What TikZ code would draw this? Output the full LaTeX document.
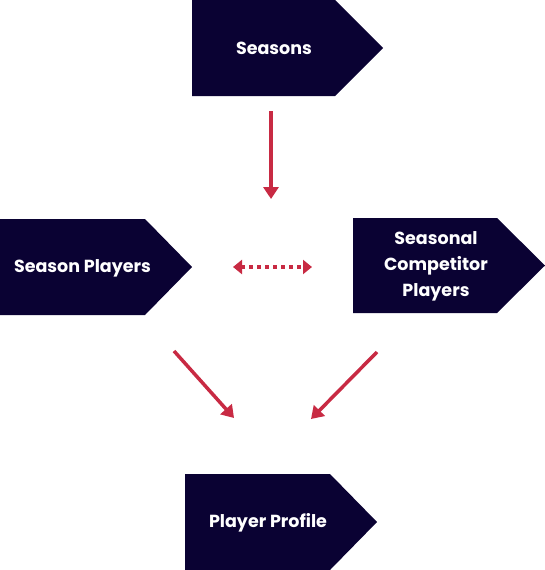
\documentclass[tikz,border=0pt]{standalone}
\usepackage{fontspec}
\setmainfont{Poppins}
\usetikzlibrary{arrows.meta}
\definecolor{navy}{HTML}{0A0233}
\definecolor{redarrow}{HTML}{C82A43}
\tikzset{
  boxfill/.style={fill=navy},
  lbl/.style={text=white,font=\bfseries\fontsize{17.5}{26}\selectfont,align=center,inner sep=0pt},
  conn/.style={draw=redarrow,line width=3.5pt,-{Triangle[width=15pt,length=12pt]}},
  dotconn/.style={draw=redarrow,line width=3.5pt,dash pattern=on 3.5pt off 4.5pt,{Triangle[width=14pt,length=9pt]}-{Triangle[width=14pt,length=9pt]}}
}
\begin{document}
\begin{tikzpicture}[x=1pt,y=-1pt]
\useasboundingbox (0,0) rectangle (545,570);
% boxes
\fill[boxfill] (192,0) -- (335,0) -- (383,48) -- (335,96) -- (192,96) -- cycle;
\fill[boxfill] (0,219) -- (145,219) -- (192,267) -- (145,315) -- (0,315) -- cycle;
\fill[boxfill] (353,218) -- (497,218) -- (545,265.5) -- (497,313) -- (353,313) -- cycle;
\fill[boxfill] (185,474) -- (330,474) -- (377,522) -- (330,570) -- (185,570) -- cycle;
% labels
\node[lbl] (seasons) at (274,48) {Seasons};
\node[lbl] (sp) at (82.5,268) {Season Players};
\node[lbl] (scp) at (436,266) {Seasonal\\Competitor\\Players};
\node[lbl] (pp) at (268,523) {Player Profile};
% connector ends
\coordinate (a1) at (271,111);
\coordinate (a2) at (271,199);
\coordinate (b1) at (233,267);
\coordinate (b2) at (312,267);
\coordinate (c1) at (174,351);
\coordinate (c2) at (234,418);
\coordinate (d1) at (377,352);
\coordinate (d2) at (311,419);
\draw[conn] (a1) -- (a2);
\draw[dotconn] (b1) -- (b2);
\draw[conn] (c1) -- (c2);
\draw[conn] (d1) -- (d2);
\end{tikzpicture}
\end{document}
